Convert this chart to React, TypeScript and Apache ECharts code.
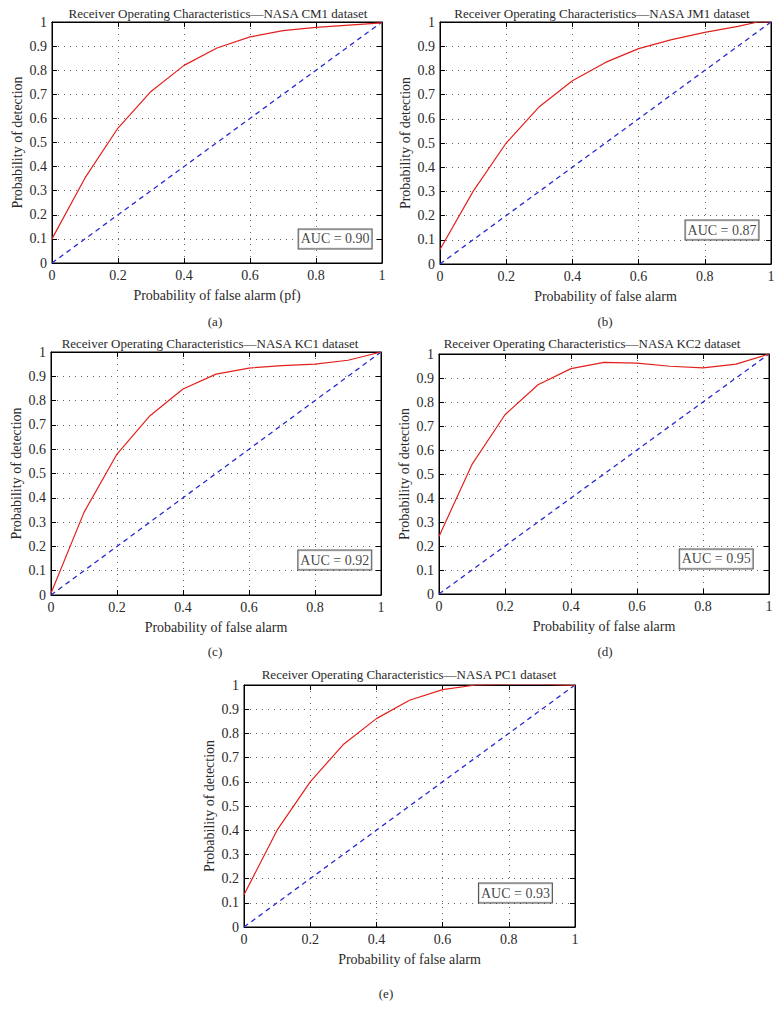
import React, { useEffect, useRef } from "react";
import * as echarts from "echarts";

const FPR = [0, 0.1, 0.2, 0.3, 0.4, 0.5, 0.6, 0.7, 0.8, 0.9, 1.0];
const CM1 = [0.1, 0.353, 0.56, 0.712, 0.82, 0.892, 0.938, 0.964, 0.978, 0.987, 0.996];
const JM1_X = [0, 0.1, 0.2, 0.3, 0.4, 0.5, 0.6, 0.7, 0.8, 0.9, 0.96, 1.0];
const JM1 = [0.06, 0.3, 0.5, 0.65, 0.757, 0.833, 0.89, 0.927, 0.957, 0.982, 1.0, 1.0];
const KC1 = [0.007, 0.34, 0.58, 0.738, 0.848, 0.909, 0.934, 0.944, 0.95, 0.966, 1.0];
const KC2 = [0.24, 0.54, 0.747, 0.872, 0.939, 0.965, 0.962, 0.949, 0.942, 0.958, 1.0];
const PC1 = [0.133, 0.4, 0.6, 0.754, 0.861, 0.937, 0.981, 1.0, 1.004, 1.004, 0.998];
const DIAG_X = [0, 1];
const DIAG_Y = [0, 1];

const TITLES = [
  "Receiver Operating Characteristics\u2014NASA CM1 dataset",
  "Receiver Operating Characteristics\u2014NASA JM1 dataset",
  "Receiver Operating Characteristics\u2014NASA KC1 dataset",
  "Receiver Operating Characteristics\u2014NASA KC2 dataset",
  "Receiver Operating Characteristics\u2014NASA PC1 dataset",
];
const X_NAMES = [
  "Probability of false alarm (pf)",
  "Probability of false alarm",
  "Probability of false alarm",
  "Probability of false alarm",
  "Probability of false alarm",
];
const Y_NAME = "Probability of detection";
const AUC_TEXT = ["AUC = 0.90", "AUC = 0.87", "AUC = 0.92", "AUC = 0.95", "AUC = 0.93"];
const AUC_POS = [
  [0.858, 0.1],
  [0.852, 0.14],
  [0.86, 0.144],
  [0.84, 0.146],
  [0.82, 0.14],
];
const CAPTIONS = ["(a)", "(b)", "(c)", "(d)", "(e)"];

const SERIES_X = [FPR, JM1_X, FPR, FPR, FPR];
const SERIES_Y = [CM1, JM1, KC1, KC2, PC1];

// layout
const GRIDS = [
  { left: 52, top: 22, width: 330, height: 241 },
  { left: 440, top: 22, width: 331, height: 242 },
  { left: 51, top: 352, width: 330, height: 243 },
  { left: 439, top: 354, width: 330, height: 240 },
  { left: 244, top: 685, width: 331, height: 242 },
];
const TITLE_POS = [
  [218, 13],
  [602, 13],
  [210, 343],
  [592, 343],
  [409, 674],
];
const CAPTION_POS = [
  [215, 321],
  [605, 321],
  [215, 651],
  [605, 651],
  [386, 993],
];

const FONT = "Liberation Serif";
const TXT = "#2a2a2a";

export default function App() {
  const ref = useRef<HTMLDivElement>(null);
  useEffect(() => {
    if (!ref.current) return;
    const chart = echarts.init(ref.current, undefined, { renderer: "svg" });
    const grid: any[] = [];
    const xAxis: any[] = [];
    const yAxis: any[] = [];
    const series: any[] = [];
    const graphic: any[] = [];

    GRIDS.forEach((g, i) => {
      grid.push({ ...g, show: true, borderColor: "#000", borderWidth: 1, backgroundColor: "#fff" });
      const baseX = {
        type: "value",
        gridIndex: i,
        min: 0,
        max: 1,
        interval: 0.2,
      };
      xAxis.push({
        ...baseX,
        position: "bottom",
        name: X_NAMES[i],
        nameLocation: "middle",
        nameGap: 25,
        nameTextStyle: { fontFamily: FONT, fontSize: 14, color: TXT },
        axisLine: { show: true, onZero: false, lineStyle: { color: "#000", width: 1 } },
        axisTick: { show: true, inside: true, length: 5, lineStyle: { color: "#000" } },
        axisLabel: { fontFamily: FONT, fontSize: 14, color: TXT, margin: 5 },
        splitLine: { show: true, lineStyle: { color: "#666", type: [1, 5], width: 1 } },
      });
      xAxis.push({
        ...baseX,
        position: "top",
        axisLine: { show: true, onZero: false, lineStyle: { color: "#000", width: 1 } },
        axisTick: { show: true, inside: true, length: 5, lineStyle: { color: "#000" } },
        axisLabel: { show: false },
        splitLine: { show: false },
      });
      const baseY = {
        type: "value",
        gridIndex: i,
        min: 0,
        max: 1,
        interval: 0.1,
      };
      yAxis.push({
        ...baseY,
        position: "left",
        name: Y_NAME,
        nameLocation: "middle",
        nameGap: 28,
        nameTextStyle: { fontFamily: FONT, fontSize: 14, color: TXT },
        axisLine: { show: true, onZero: false, lineStyle: { color: "#000", width: 1 } },
        axisTick: { show: true, inside: true, length: 5, lineStyle: { color: "#000" } },
        axisLabel: { fontFamily: FONT, fontSize: 14, color: TXT, margin: 5 },
        splitLine: { show: true, lineStyle: { color: "#666", type: [1, 5], width: 1 } },
      });
      yAxis.push({
        ...baseY,
        position: "right",
        axisLine: { show: true, onZero: false, lineStyle: { color: "#000", width: 1 } },
        axisTick: { show: true, inside: true, length: 5, lineStyle: { color: "#000" } },
        axisLabel: { show: false },
        splitLine: { show: false },
      });
      const xi = i * 2;
      const yi = i * 2;
      series.push({
        type: "line",
        xAxisIndex: xi,
        yAxisIndex: yi,
        data: DIAG_X.map((x, k) => [x, DIAG_Y[k]]),
        showSymbol: false,
        symbol: "none",
        lineStyle: { color: "#2a2ad2", width: 1.3, type: [5, 4] },
        z: 3,
      });
      series.push({
        type: "line",
        xAxisIndex: xi,
        yAxisIndex: yi,
        data: SERIES_X[i].map((x, k) => [x, SERIES_Y[i][k]]),
        showSymbol: false,
        symbol: "none",
        lineStyle: { color: "#e3201c", width: 1.2 },
        z: 4,
      });
      series.push({
        type: "scatter",
        xAxisIndex: xi,
        yAxisIndex: yi,
        data: [AUC_POS[i]],
        symbolSize: 1,
        itemStyle: { color: "rgba(0,0,0,0)" },
        label: {
          show: true,
          position: "inside",
          formatter: AUC_TEXT[i],
          fontFamily: FONT,
          fontSize: 14,
          color: "#111",
          backgroundColor: "#fff",
          borderColor: "#222",
          borderWidth: 1,
          padding: [3, 2, 2, 2],
        },
        z: 5,
        silent: true,
      });
      graphic.push({
        type: "text",
        x: TITLE_POS[i][0],
        y: TITLE_POS[i][1],
        style: {
          text: TITLES[i],
          textAlign: "center",
          textVerticalAlign: "middle",
          font: `13px ${FONT}`,
          fill: TXT,
        },
      });
      graphic.push({
        type: "text",
        x: CAPTION_POS[i][0],
        y: CAPTION_POS[i][1],
        style: {
          text: CAPTIONS[i],
          textAlign: "center",
          textVerticalAlign: "middle",
          font: `13px ${FONT}`,
          fill: TXT,
        },
      });
    });

    chart.setOption({
      animation: false,
      backgroundColor: "#fff",
      grid,
      xAxis,
      yAxis,
      series,
      graphic,
    });
    return () => chart.dispose();
  }, []);
  return (
    <div
      ref={ref}
      style={{ position: "absolute", left: 0, top: 0, width: 780, height: 1011 }}
    />
  );
}
